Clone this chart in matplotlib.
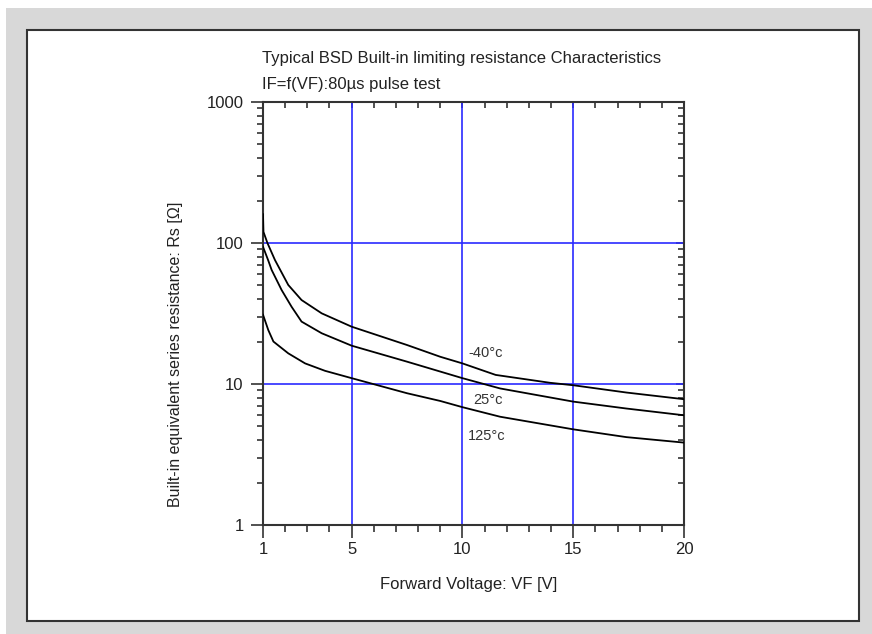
import numpy as np
import matplotlib
matplotlib.use("Agg")
import matplotlib.pyplot as plt
from matplotlib.patches import Rectangle
from matplotlib.ticker import FixedLocator, NullFormatter, LogLocator

plt.rcParams['font.family'] = ['Liberation Sans', 'DejaVu Sans']

# curve data: forward voltage [V] -> Rs [ohm]
vf_m40 = [1.0, 1.02, 1.2, 1.54, 2.14, 2.74, 3.65, 5.0, 7.5, 9.0, 10.0, 11.5, 13.95, 15.0, 17.4, 20.0]
rs_m40 = [160, 120, 100, 75.7, 50.4, 39.4, 31.7, 25.5, 18.9, 15.6, 14.0, 11.6, 10.2, 9.8, 8.7, 7.8]

vf_25 = [1.0, 1.23, 1.39, 1.84, 2.29, 2.74, 3.65, 5.0, 7.5, 10.0, 11.7, 15.0, 17.4, 20.0]
rs_25 = [94, 75.7, 64.4, 46.4, 35.3, 27.7, 22.9, 18.7, 14.4, 11.0, 9.3, 7.5, 6.7, 6.0]

vf_125 = [1.0, 1.24, 1.47, 2.14, 2.9, 3.8, 5.0, 7.5, 9.0, 10.0, 11.7, 15.0, 17.4, 20.0]
rs_125 = [31, 24.1, 20, 16.5, 14.0, 12.4, 11.0, 8.6, 7.58, 6.85, 5.86, 4.77, 4.2, 3.84]

curve_labels = ["-40°c", "25°c", "125°c"]
label_pos = [(10.25, 16.7), (10.48, 7.7), (10.25, 4.28)]

x_ticks = [1, 5, 10, 15, 20]
y_ticks = [1, 10, 100, 1000]

W, H = 872, 634
fig = plt.figure(figsize=(W / 100, H / 100), dpi=100, facecolor='white')

# grey surround and white panel with dark frame
fig.patches.append(Rectangle((6 / W, 0), 1 - 6 / W, 1 - 8 / H, transform=fig.transFigure,
                             facecolor='#d8d8d8', edgecolor='none', zorder=0))
fig.patches.append(Rectangle((27 / W, 1 - 621 / H), (859 - 27) / W, (621 - 30) / H,
                             transform=fig.transFigure, facecolor='white',
                             edgecolor='#333333', linewidth=1.5, zorder=1))

ax = fig.add_axes([263 / W, 1 - 525 / H, (684 - 263) / W, (525 - 102) / H])
ax.set_zorder(3)
ax.set_facecolor('white')
ax.set_yscale('log')
ax.set_xlim(1, 20)
ax.set_ylim(1, 1000)

for v in [5, 10, 15]:
    ax.axvline(v, color='#2a2aff', lw=1.2, zorder=1)
for r in [10, 100]:
    ax.axhline(r, color='#2a2aff', lw=1.2, zorder=1)

ax.plot(vf_m40, rs_m40, color='black', lw=1.3, zorder=3)
ax.plot(vf_25, rs_25, color='black', lw=1.3, zorder=3)
ax.plot(vf_125, rs_125, color='black', lw=1.3, zorder=3)

for txt, (lx, ly) in zip(curve_labels, label_pos):
    ax.text(lx, ly, txt, fontsize=10.5, ha='left', va='center', color='#333333')

ax.set_xticks(x_ticks)
ax.set_xticklabels([str(t) for t in x_ticks])
ax.xaxis.set_minor_locator(FixedLocator(list(range(1, 21))))
ax.set_yticks(y_ticks)
ax.set_yticklabels([str(t) for t in y_ticks])
ax.yaxis.set_minor_locator(LogLocator(base=10, subs=np.arange(2, 10)))
ax.yaxis.set_minor_formatter(NullFormatter())

ax.tick_params(which='major', direction='out', length=9, width=1.2, labelsize=12,
               colors='#333333', labelcolor='#222222')
ax.tick_params(axis='x', which='major', pad=3)
ax.tick_params(axis='y', which='major', pad=5)
ax.tick_params(which='minor', direction='out', width=1.2, colors='#333333')
ax.tick_params(axis='x', which='minor', length=5)
ax.tick_params(axis='y', which='minor', length=4)

for s in ax.spines.values():
    s.set_linewidth(1.5)
    s.set_color('#333333')

top = ax.secondary_xaxis('top')
top.set_xticks(list(range(1, 21)))
top.tick_params(direction='in', length=4, width=1.2, labeltop=False, colors='#333333')
top.spines['top'].set_visible(False)

right = ax.secondary_yaxis('right')
right.set_yticks(y_ticks)
right.yaxis.set_minor_locator(LogLocator(base=10, subs=np.arange(2, 10)))
right.yaxis.set_minor_formatter(NullFormatter())
right.tick_params(which='both', direction='in', width=1.2, labelright=False, colors='#333333')
right.tick_params(which='major', length=6)
right.tick_params(which='minor', length=4)
right.spines['right'].set_visible(False)

fig.text(262 / W, 1 - 59 / H, "Typical BSD Built-in limiting resistance Characteristics",
         fontsize=12, ha='left', va='center', color='#222222')
fig.text(262 / W, 1 - 84 / H, "IF=f(VF):80\u00b5s pulse test",
         fontsize=12, ha='left', va='center', color='#222222')

fig.text(469 / W, 1 - 585 / H, "Forward Voltage: VF [V]", fontsize=12,
         ha='center', va='center', color='#222222')
fig.text(175 / W, 1 - 354 / H, "Built-in equivalent series resistance: Rs [\u03a9]", fontsize=11.5,
         ha='center', va='center', rotation=90, color='#222222')

fig.savefig("out.png", dpi=100, facecolor=fig.get_facecolor())
